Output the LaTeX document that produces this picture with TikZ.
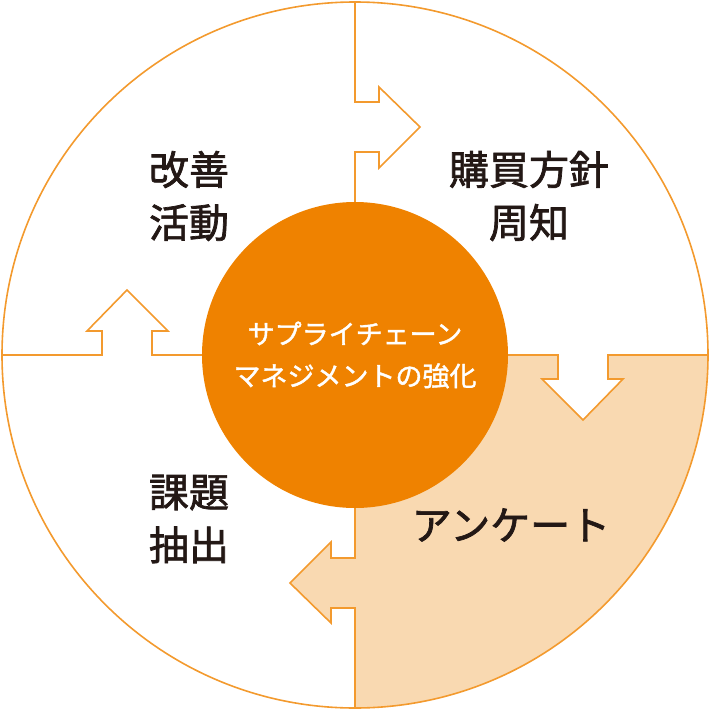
\documentclass[tikz,border=0pt]{standalone}
\usepackage{fontspec}
\newfontfamily\jp{Noto Sans CJK JP}
\usetikzlibrary{positioning}
\definecolor{lineorange}{HTML}{F39A2E}
\definecolor{huborange}{HTML}{EF8200}
\definecolor{paleorange}{HTML}{F9D9B1}
\definecolor{inkdark}{HTML}{231815}
% slightly heavier strokes for the labels
\newcommand{\heavy}[2]{\special{pdf:code 2 Tr #1 w}#2\special{pdf:code 0 Tr}}

\begin{document}
\begin{tikzpicture}[
  x=1pt, y=-1pt,
  divider/.style={line width=1.6pt, lineorange, line join=miter},
  hub/.style={circle, fill=huborange, minimum size=306pt, inner sep=0pt,
              font=\jp\fontsize{27}{42}\selectfont, text=white, align=center},
  phase/.style={font=\jp\fontsize{40}{53}\selectfont, text=inkdark, align=center},
]
  \useasboundingbox (0,0) rectangle (710,710);

  % Highlighted quadrant (survey)
  \fill[paleorange] (355,355) -- (558,355) -- (558,379) -- (542,379) -- (583,419)
    -- (623,379) -- (608,379) -- (608,355) -- (708,355)
    arc[start angle=0, end angle=-90, radius=353pt]
    -- (355,608) -- (331,608) -- (331,623) -- (290,583) -- (331,542)
    -- (331,558) -- (355,558) -- cycle;

  % Outer ring
  \draw[divider] (355,355) circle[radius=353pt];

  % Dividers with arrows
  \foreach \ang in {0,-90,-180,-270} {
    \draw[divider, rotate around={\ang:(355,355)}]
      (355,2) -- (355,102) -- (379,102) -- (379,87) -- (420,127)
      -- (379,168) -- (379,152) -- (355,152) -- (355,202);
  }

  % Centre
  \node[hub] (hub) at (355,355) {\heavy{0.4}{サプライチェーン}\\\heavy{0.4}{マネジメントの強化}};

  % Phases
  \node[phase] (buy)    at (529,196) {\heavy{0.7}{購買方針}\\\heavy{0.7}{周知}};
  \node[phase] (survey) at (511,525) {\heavy{0.7}{アンケート}};
  \node[phase] (issue)  at (189,519) {\heavy{0.7}{課題}\\\heavy{0.7}{抽出}};
  \node[phase] (act)    at (189,196) {\heavy{0.7}{改善}\\\heavy{0.7}{活動}};
\end{tikzpicture}
\end{document}
